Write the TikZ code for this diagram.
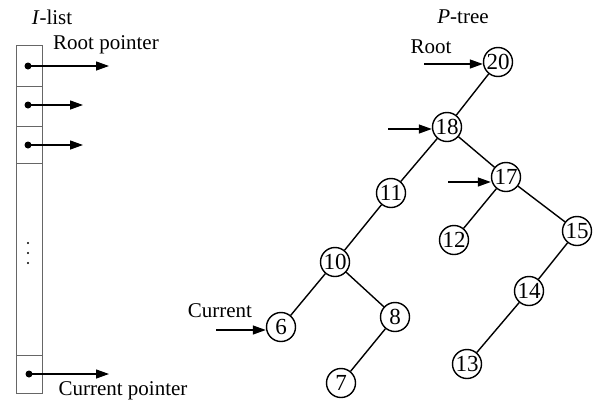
\documentclass[tikz,border=0pt]{standalone}
\usepackage{fontspec}
\setmainfont{Liberation Serif}
\usetikzlibrary{arrows.meta}
\begin{document}
\begin{tikzpicture}[x=1pt,y=-1pt,
  every node/.style={font=\fontsize{21}{25}\selectfont},
  tn/.style={draw,circle,line width=1.4pt,minimum size=29pt,inner sep=0pt,font=\fontsize{23}{25}\selectfont},
  edge/.style={line width=1.4pt},
  ptr/.style={line width=1.3pt,-{Triangle[length=13pt,width=9pt]}},
  cell/.style={draw=black!60,line width=0.9pt},
  dotc/.style={fill=black,circle,inner sep=0pt,minimum size=7pt}]
\useasboundingbox (0,0) rectangle (594,402);
% I-list
\node (ilab) at (52,17) {\textit{I}-list};
\draw[cell] (16,45) rectangle (42,393);
\draw[cell] (16,86) -- (42,86);
\draw[cell] (16,126) -- (42,126);
\draw[cell] (16,163) -- (42,163);
\draw[cell] (16,355) -- (42,355);
\node[dotc] (d1) at (28,66) {};
\node[dotc] (d2) at (28,105) {};
\node[dotc] (d3) at (28,145) {};
\node[dotc] (d4) at (29,374) {};
\coordinate (e1) at (109,66);
\coordinate (e2) at (83,105);
\coordinate (e3) at (83,145);
\coordinate (e4) at (109,374);
\draw[ptr] (d1.center) -- (e1);
\draw[ptr] (d2.center) -- (e2);
\draw[ptr] (d3.center) -- (e3);
\draw[ptr] (d4.center) -- (e4);
\foreach \yy in {243,253,263} \fill (28,\yy) circle (1.2pt);
\node (rp) at (106,45) {Root pointer};
\node (cp) at (123,391) {Current pointer};
% P-tree
\node (plab) at (463,17) {\textit{P}-tree};
\node[tn] (n20) at (498,62) {20};
\node[tn] (n18) at (447,127) {18};
\node[tn] (n17) at (506,177) {17};
\node[tn] (n11) at (391,193) {11};
\node[tn] (n12) at (454,240) {12};
\node[tn] (n15) at (577,231) {15};
\node[tn] (n10) at (335,262) {10};
\node[tn] (n14) at (529,291) {14};
\node[tn] (n6) at (281,327) {6};
\node[tn] (n8) at (395,317) {8};
\node[tn] (n13) at (467,364) {13};
\node[tn] (n7) at (341,383) {7};
\draw[edge] (n20) -- (n18);
\draw[edge] (n18) -- (n11);
\draw[edge] (n18) -- (n17);
\draw[edge] (n17) -- (n12);
\draw[edge] (n17) -- (n15);
\draw[edge] (n11) -- (n10);
\draw[edge] (n10) -- (n6);
\draw[edge] (n10) -- (n8);
\draw[edge] (n8) -- (n7);
\draw[edge] (n15) -- (n14);
\draw[edge] (n14) -- (n13);
% pointers into tree
\node (rootl) at (431,47) {Root};
\coordinate (r0) at (424,64);
\draw[ptr] (r0) -- (r0 -| n20.west);
\coordinate (a18) at (388,129);
\draw[ptr] (a18) -- (a18 -| n18.west);
\coordinate (a17) at (448,182);
\draw[ptr] (a17) -- (a17 -| n17.west);
\node (curl) at (220,311) {Current};
\coordinate (a6) at (216,330);
\draw[ptr] (a6) -- (a6 -| n6.west);
\end{tikzpicture}
\end{document}
